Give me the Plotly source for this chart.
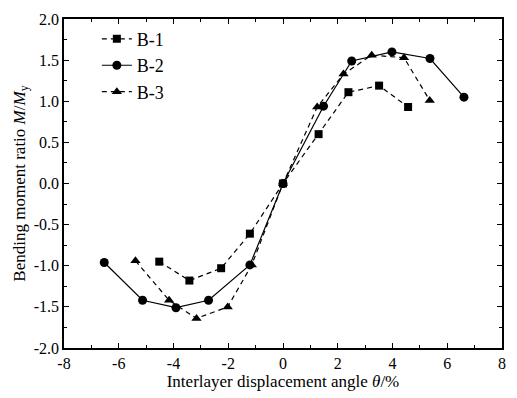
import plotly.graph_objects as go

b1_x = [-4.52, -3.42, -2.26, -1.21, 0.0, 1.30, 2.39, 3.51, 4.57]
b1_y = [-0.95, -1.18, -1.03, -0.61, 0.0, 0.60, 1.11, 1.19, 0.93]
b2_x = [-6.53, -5.13, -3.91, -2.72, -1.21, 0.0, 1.48, 2.51, 3.98, 5.37, 6.61]
b2_y = [-0.96, -1.42, -1.51, -1.42, -0.99, 0.0, 0.94, 1.49, 1.60, 1.52, 1.05]
b3_x = [-5.39, -4.16, -3.16, -2.02, -1.14, 0.0, 1.25, 2.21, 3.24, 4.42, 5.36]
b3_y = [-0.94, -1.42, -1.64, -1.50, -0.99, 0.0, 0.93, 1.33, 1.56, 1.53, 1.01]

x_ticks = [-8, -6, -4, -2, 0, 2, 4, 6, 8]
x_ticklabels = ["-8", "-6", "-4", "-2", "0", "2", "4", "6", "8"]
y_ticks = [-2.0, -1.5, -1.0, -0.5, 0.0, 0.5, 1.0, 1.5, 2.0]
y_ticklabels = ["-2.0", "-1.5", "-1.0", "-0.5", "0.0", "0.5", "1.0", "1.5", "2.0"]

font = "Liberation Serif, Times New Roman, serif"
fig = go.Figure()
fig.add_trace(go.Scatter(x=b1_x, y=b1_y, name="B-1", mode="lines+markers",
                         line=dict(color="black", width=1.2, dash="5px,4px"),
                         marker=dict(symbol="square", size=8, color="black")))
fig.add_trace(go.Scatter(x=b2_x, y=b2_y, name="B-2", mode="lines+markers",
                         line=dict(color="black", width=1.2),
                         marker=dict(symbol="circle", size=9, color="black")))
fig.add_trace(go.Scatter(x=b3_x, y=b3_y, name="B-3", mode="lines+markers",
                         line=dict(color="black", width=1.2, dash="5px,4px"),
                         marker=dict(symbol="triangle-up", size=9, color="black")))

axis_common = dict(showgrid=False, zeroline=False, showline=True, linecolor="black",
                   linewidth=1.5, mirror="allticks", ticks="inside", ticklen=5,
                   tickwidth=1, tickcolor="black",
                   tickfont=dict(family=font, size=16, color="black"))
fig.update_xaxes(range=[-8, 8], tickmode="array", tickvals=x_ticks, ticktext=x_ticklabels,
                 minor=dict(dtick=1, tick0=-8, ticks="inside", ticklen=3, tickcolor="black"),
                 title=dict(text="Interlayer displacement angle <i>θ</i>/%",
                            font=dict(family=font, size=17, color="black"), standoff=3),
                 **axis_common)
fig.update_yaxes(range=[-2, 2], tickmode="array", tickvals=y_ticks, ticktext=y_ticklabels,
                 minor=dict(dtick=0.25, tick0=-2, ticks="inside", ticklen=3, tickcolor="black"),
                 title=dict(text="Bending moment ratio <i>M</i>/<i>M</i><sub>y</sub>",
                            font=dict(family=font, size=17, color="black"), standoff=4),
                 **axis_common)
fig.update_layout(width=517, height=398, margin=dict(l=64, r=11, t=15, b=45),
                  plot_bgcolor="white", paper_bgcolor="white",
                  font=dict(family=font, color="black"),
                  legend=dict(x=0.075, y=0.995, xanchor="left", yanchor="top",
                              bgcolor="rgba(0,0,0,0)", font=dict(family=font, size=18),
                              itemwidth=30, tracegroupgap=0))
fig.write_html("out.html")
